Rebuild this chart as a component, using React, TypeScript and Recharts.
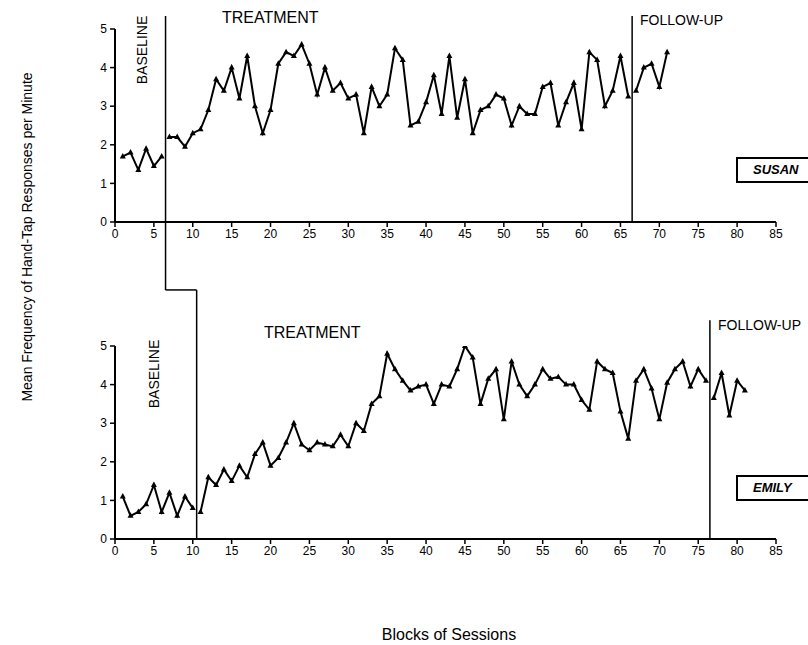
import React from 'react';
import { LineChart, Line, XAxis, YAxis, ReferenceLine } from 'recharts';

// ---------- data ----------
const xTicks = [0, 5, 10, 15, 20, 25, 30, 35, 40, 45, 50, 55, 60, 65, 70, 75, 80, 85];
const yTicks = [0, 1, 2, 3, 4, 5];

const susanValues = [
  1.7, 1.8, 1.35, 1.9, 1.45, 1.7, 2.2, 2.2, 1.95, 2.3,
  2.4, 2.9, 3.7, 3.4, 4.0, 3.2, 4.3, 3.0, 2.3, 2.9,
  4.1, 4.4, 4.3, 4.6, 4.1, 3.3, 4.0, 3.4, 3.6, 3.2,
  3.3, 2.3, 3.5, 3.0, 3.3, 4.5, 4.2, 2.5, 2.6, 3.1,
  3.8, 2.8, 4.3, 2.7, 3.7, 2.3, 2.9, 3.0, 3.3, 3.2,
  2.5, 3.0, 2.8, 2.8, 3.5, 3.6, 2.5, 3.1, 3.6, 2.4,
  4.4, 4.2, 3.0, 3.4, 4.3, 3.25, 3.4, 4.0, 4.1, 3.5, 4.4,
];
const susanBaselineEnd = 6; // last baseline session
const susanTreatmentEnd = 66; // last treatment session

const emilyValues = [
  1.1, 0.6, 0.7, 0.9, 1.4, 0.7, 1.2, 0.6, 1.1, 0.8,
  0.7, 1.6, 1.4, 1.8, 1.5, 1.9, 1.6, 2.2, 2.5, 1.9,
  2.1, 2.5, 3.0, 2.45, 2.3, 2.5, 2.45, 2.4, 2.7, 2.4,
  3.0, 2.8, 3.5, 3.7, 4.8, 4.4, 4.1, 3.85, 3.95, 4.0,
  3.5, 4.0, 3.95, 4.4, 5.0, 4.7, 3.5, 4.15, 4.4, 3.1,
  4.6, 4.0, 3.7, 4.0, 4.4, 4.15, 4.2, 4.0, 4.0, 3.6,
  3.35, 4.6, 4.4, 4.3, 3.3, 2.6, 4.1, 4.4, 3.9, 3.1,
  4.05, 4.4, 4.6, 3.95, 4.4, 4.1, 3.65, 4.3, 3.2, 4.1, 3.85,
];
const emilyBaselineEnd = 10;
const emilyTreatmentEnd = 76;

function buildData(values: number[], bEnd: number, tEnd: number) {
  return values.map((v, i) => {
    const s = i + 1;
    return {
      session: s,
      baseline: s <= bEnd ? v : null,
      treatment: s > bEnd && s <= tEnd ? v : null,
      followup: s > tEnd ? v : null,
    };
  });
}

const susanData = buildData(susanValues, susanBaselineEnd, susanTreatmentEnd);
const emilyData = buildData(emilyValues, emilyBaselineEnd, emilyTreatmentEnd);

// ---------- styles ----------
const FONT = '"Liberation Sans", Arial, Helvetica, sans-serif';

const TriangleDot = (props: any) => {
  const { cx, cy, payload, dataKey } = props;
  if (cx == null || cy == null || payload == null || payload[dataKey] == null) return null;
  return (
    <polygon
      key={`${dataKey}-${cx}`}
      points={`${cx},${cy - 3.5} ${cx - 3},${cy + 2} ${cx + 3},${cy + 2}`}
      fill="#000"
    />
  );
};

const tickStyle = { fill: '#000', fontSize: 12, fontFamily: FONT };

function series(key: string) {
  return (
    <Line
      key={key}
      type="linear"
      dataKey={key}
      stroke="#000"
      strokeWidth={2}
      dot={<TriangleDot dataKey={key} />}
      activeDot={false}
      connectNulls={false}
      isAnimationActive={false}
    />
  );
}

function axes() {
  return [
    <XAxis
      key="x"
      type="number"
      dataKey="session"
      domain={[0, 85]}
      ticks={xTicks}
      interval={0}
      allowDataOverflow
      height={30}
      tickSize={5}
      tickMargin={2}
      tick={tickStyle}
      axisLine={{ stroke: '#000', strokeWidth: 2 }}
      tickLine={{ stroke: '#000', strokeWidth: 1.5 }}
    />,
    <YAxis
      key="y"
      type="number"
      domain={[0, 5]}
      ticks={yTicks}
      interval={0}
      allowDataOverflow
      width={115}
      tickSize={5}
      tickMargin={3}
      tick={tickStyle}
      axisLine={{ stroke: '#000', strokeWidth: 2 }}
      tickLine={{ stroke: '#000', strokeWidth: 1.5 }}
    />,
  ];
}

const abs = (s: React.CSSProperties): React.CSSProperties => ({ position: 'absolute', whiteSpace: 'nowrap', ...s });

const rotated = (cx: number, cy: number, size: number): React.CSSProperties =>
  abs({ left: cx, top: cy, fontSize: size, lineHeight: 1, transform: 'translate(-50%, -50%) rotate(-90deg)' });

const nameBox = (top: number): React.CSSProperties =>
  abs({
    left: 736,
    top,
    width: 84,
    height: 26,
    border: '2px solid #000',
    boxSizing: 'border-box',
    fontSize: 13,
    fontWeight: 'bold',
    fontStyle: 'italic',
    lineHeight: '22px',
    paddingLeft: 15,
  });

export default function App() {
  return (
    <div
      style={{
        position: 'absolute',
        left: 0,
        top: 0,
        width: 808,
        height: 645,
        overflow: 'hidden',
        background: '#fff',
        fontFamily: FONT,
        color: '#000',
      }}
    >
      {/* Top chart: SUSAN */}
      <div style={{ position: 'absolute', left: 0, top: 0 }}>
        <LineChart width={808} height={300} data={susanData} margin={{ top: 29, right: 32, left: 0, bottom: 48 }}>
          {axes()}
          <ReferenceLine
            segment={[{ x: 6.5, y: 5.34 }, { x: 6.5, y: -1.76 }]}
            stroke="#000"
            strokeWidth={1.5}
            ifOverflow="visible"
          />
          <ReferenceLine
            segment={[{ x: 6.5, y: -1.76 }, { x: 10.5, y: -1.76 }]}
            stroke="#000"
            strokeWidth={1.5}
            ifOverflow="visible"
          />
          <ReferenceLine
            segment={[{ x: 66.5, y: 5.34 }, { x: 66.5, y: 0 }]}
            stroke="#000"
            strokeWidth={1.5}
            ifOverflow="visible"
          />
          {series('baseline')}
          {series('treatment')}
          {series('followup')}
        </LineChart>
      </div>

      {/* Bottom chart: EMILY */}
      <div style={{ position: 'absolute', left: 0, top: 280 }}>
        <LineChart width={808} height={365} data={emilyData} margin={{ top: 66, right: 32, left: 0, bottom: 76 }}>
          {axes()}
          <ReferenceLine
            segment={[{ x: 10.5, y: 6.45 }, { x: 10.5, y: 0 }]}
            stroke="#000"
            strokeWidth={1.5}
            ifOverflow="visible"
          />
          <ReferenceLine
            segment={[{ x: 76.5, y: 5.67 }, { x: 76.5, y: 0 }]}
            stroke="#000"
            strokeWidth={1.5}
            ifOverflow="visible"
          />
          {series('baseline')}
          {series('treatment')}
          {series('followup')}
        </LineChart>
      </div>

      {/* Phase labels */}
      <div style={rotated(142, 50, 14)}>BASELINE</div>
      <div style={abs({ left: 222, top: 9, fontSize: 16, lineHeight: '18px' })}>TREATMENT</div>
      <div style={abs({ left: 640, top: 12, fontSize: 14, lineHeight: '16px' })}>FOLLOW-UP</div>

      <div style={rotated(154, 374, 14)}>BASELINE</div>
      <div style={abs({ left: 264, top: 324, fontSize: 16, lineHeight: '18px' })}>TREATMENT</div>
      <div style={abs({ left: 718, top: 317, fontSize: 14, lineHeight: '16px' })}>FOLLOW-UP</div>

      {/* Subject boxes */}
      <div style={nameBox(157)}>SUSAN</div>
      <div style={nameBox(475)}>EMILY</div>

      {/* Axis titles */}
      <div style={rotated(27, 237, 14)}>Mean Frequency of Hand-Tap Responses per Minute</div>
      <div style={abs({ left: 449, top: 635, fontSize: 16, lineHeight: 1, transform: 'translate(-50%, -50%)' })}>
        Blocks of Sessions
      </div>
    </div>
  );
}
